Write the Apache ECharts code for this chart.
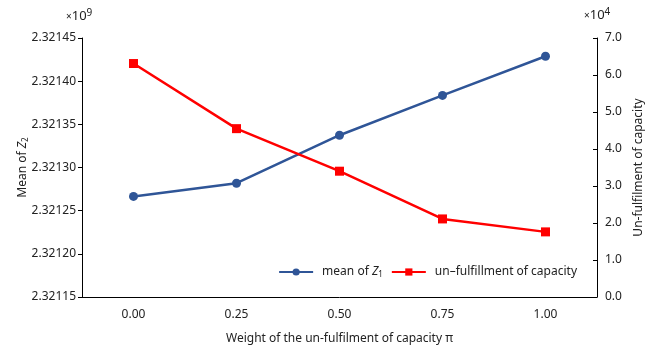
<!DOCTYPE html>
<html><head><meta charset="utf-8">
<script src="https://cdn.jsdelivr.net/npm/echarts@6/dist/echarts.min.js"></script>
<style>html,body{margin:0;padding:0;background:#fff}#c{width:658px;height:350px}</style>
</head><body><div id="c"></div>
<script>
const categories = ['0.00', '0.25', '0.50', '0.75', '1.00'];
const meanZ1 = [2321266500, 2321281800, 2321337400, 2321383500, 2321428900];
const unfulfillment = [63100, 45500, 34000, 21100, 17600];

const FONT = 'Noto Sans';
const chart = echarts.init(document.getElementById('c'));
const expRich = {
  x: { fontSize: 10, fontFamily: FONT, fill: '#222', padding: [2, 0, 0, 0] },
  a: { fontSize: 13, fontFamily: FONT, fill: '#222' },
  s: { fontSize: 10, fontFamily: FONT, fill: '#222', padding: [0, 0, 7, 0] }
};
chart.setOption({
  animation: false,
  textStyle: { fontFamily: FONT, color: '#222' },
  grid: { left: 82, right: 61, top: 38, bottom: 52 },
  legend: {
    right: 76, top: 261,
    itemWidth: 34, itemHeight: 9, itemGap: 8,
    textStyle: { fontFamily: FONT, fontSize: 12, color: '#222', padding: [0, 0, 0, 4],
      rich: { i: { fontStyle: 'italic', fontSize: 12, fontFamily: FONT }, sub: { fontSize: 8, padding: [6, 0, 0, 0], fontFamily: FONT } } },
    formatter: n => n === 'mean of Z1' ? 'mean of {i|Z}{sub|1}' : n,
    data: ['mean of Z1', 'un–fulfillment of capacity']
  },
  xAxis: {
    type: 'category', data: categories, boundaryGap: true,
    name: 'Weight of the un-fulfilment of capacity π', nameLocation: 'middle', nameGap: 36,
    nameTextStyle: { fontSize: 12, color: '#222', fontFamily: FONT },
    axisLine: { lineStyle: { color: '#000', width: 1 } },
    axisTick: { inside: true, length: 4, lineStyle: { color: '#000' } },
    axisLabel: { fontSize: 12, color: '#222', margin: 12 },
    splitLine: { show: false }
  },
  yAxis: [{
    type: 'value', position: 'left', min: 2321150000, max: 2321450000, interval: 50000,
    name: 'Mean of {i|Z}{sub|2}', nameLocation: 'middle', nameGap: 52, nameRotate: 90,
    nameMoveOverlap: false,
    nameTextStyle: { fontSize: 12, color: '#222', fontFamily: FONT,
      rich: { i: { fontStyle: 'italic', fontSize: 12, fontFamily: FONT }, sub: { fontSize: 8, padding: [6, 0, 0, 0], fontFamily: FONT } } },
    axisLine: { show: true, lineStyle: { color: '#000', width: 1 } },
    axisTick: { show: true, inside: false, length: 4, lineStyle: { color: '#000' } },
    axisLabel: { fontSize: 12, color: '#222', margin: 6, formatter: v => (v / 1e9).toFixed(5) },
    splitLine: { show: false }
  }, {
    type: 'value', position: 'right', min: 0, max: 70000, interval: 10000,
    name: 'Un-fulfilment of capacity', nameLocation: 'middle', nameGap: 36, nameRotate: 90,
    nameTextStyle: { fontSize: 12, color: '#222', fontFamily: FONT },
    axisLine: { show: true, lineStyle: { color: '#000', width: 1 } },
    axisTick: { show: true, inside: true, length: 4, lineStyle: { color: '#000' } },
    axisLabel: { fontSize: 12, color: '#222', margin: 8, formatter: v => (v / 1e4).toFixed(1) },
    splitLine: { show: false }
  }],
  graphic: [
    { type: 'text', left: 66, top: 8, style: { rich: expRich, text: '{x|×}{a|10}{s|9}' } },
    { type: 'text', left: 584, top: 7, style: { rich: expRich, text: '{x|×}{a|10}{s|4}' } }
  ],
  series: [{
    name: 'mean of Z1', type: 'line', yAxisIndex: 0, data: meanZ1,
    symbol: 'circle', symbolSize: 9,
    lineStyle: { color: '#2F5597', width: 2.5 }, itemStyle: { color: '#2F5597' }
  }, {
    name: 'un–fulfillment of capacity', type: 'line', yAxisIndex: 1, data: unfulfillment,
    symbol: 'rect', symbolSize: 9,
    lineStyle: { color: '#FF0000', width: 2.5 }, itemStyle: { color: '#FF0000' }
  }]
});
</script></body></html>
